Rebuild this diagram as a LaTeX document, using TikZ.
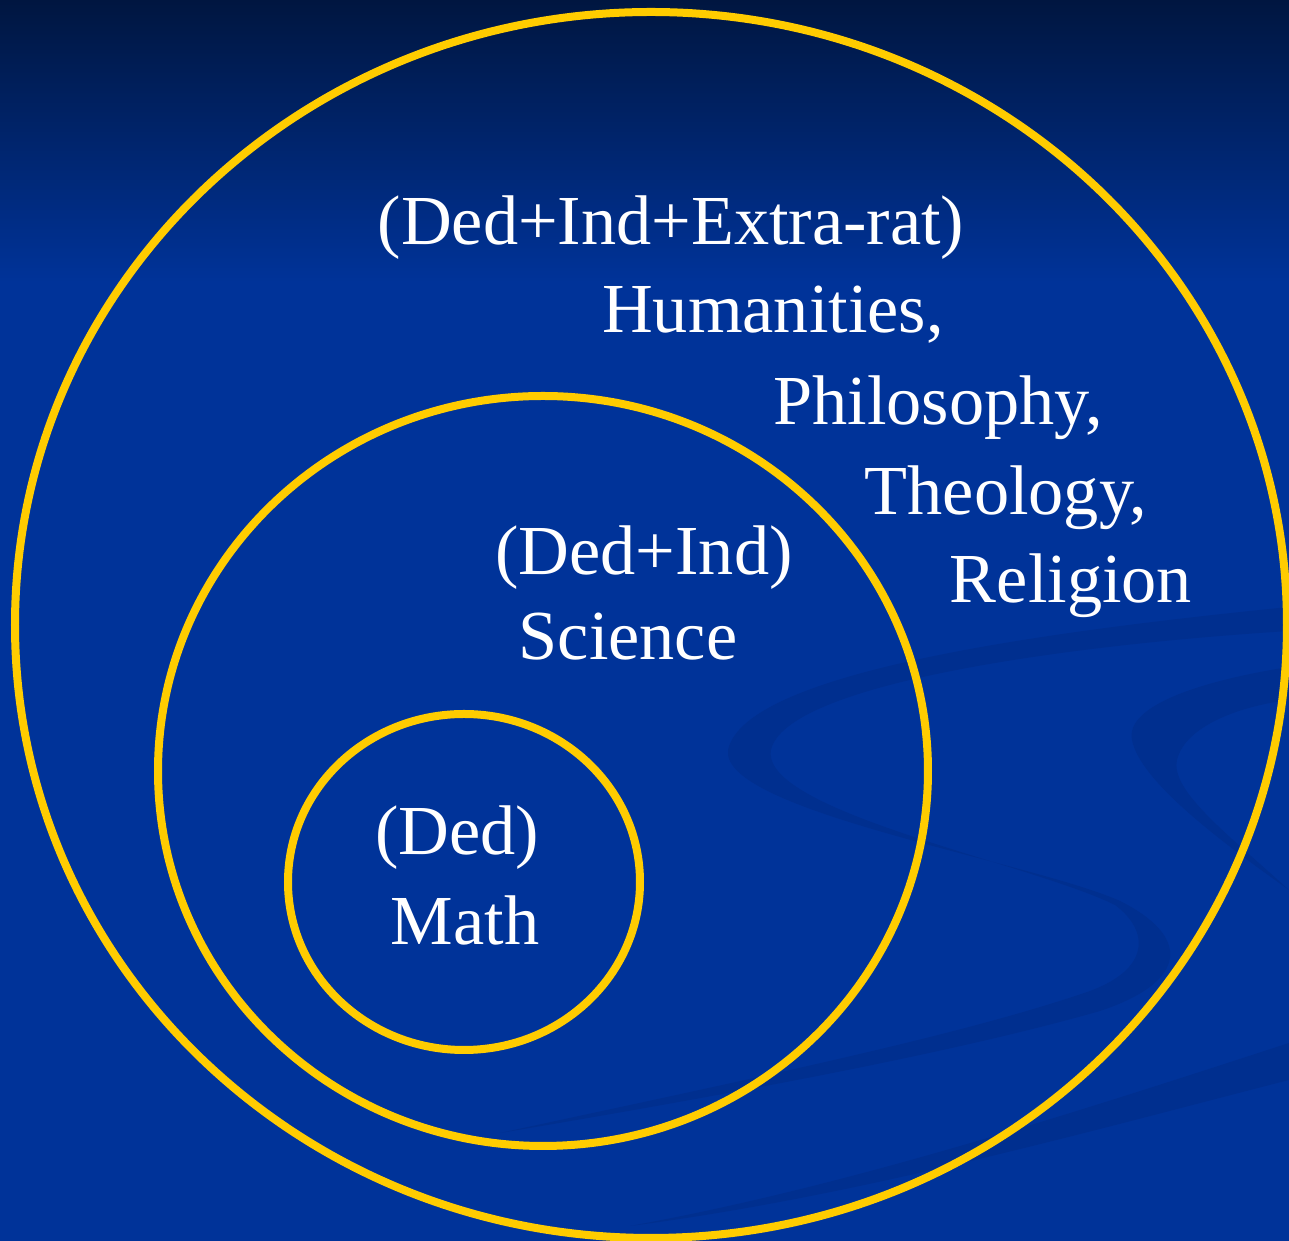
\documentclass[tikz,border=0pt]{standalone}
\usepackage{fontspec}
\setmainfont{Liberation Serif}
\usepackage{tikz}
\usetikzlibrary{shapes.geometric,positioning}
\definecolor{slidenavy}{RGB}{0,22,64}
\definecolor{slideblue}{RGB}{0,51,153}
\definecolor{swooshblue}{RGB}{0,47,143}
\definecolor{ringgold}{RGB}{255,204,0}

\begin{document}
\begin{tikzpicture}[
      ring/.style={ellipse,draw=ringgold,line width=0.08cm,inner sep=0pt},
      lbl/.style={text=white,font=\fontsize{20}{24}\selectfont,anchor=base,inner sep=0pt},
      swoosh/.style={fill=swooshblue,draw=none}]
      \useasboundingbox (0,0) rectangle (12.89,12.41);
      % Background
      \fill[slideblue] (0,0) rectangle (12.89,9.6);
      \shade[top color=slidenavy,bottom color=slideblue] (0,9.59) rectangle (12.89,12.41);

      % Swooshes
      \fill[swoosh] (12.89,6.34) .. controls (10.5,6.1) and (7.45,5.7) .. (7.28,4.91)
        .. controls (7.2,4.3) and (10.3,3.8) .. (11.2,3.4)
        .. controls (11.9,3.05) and (11.9,2.6) .. (11.0,2.3)
        .. controls (9.6,1.9) and (7.5,1.5) .. (5.0,1.08)
        .. controls (7.5,1.62) and (9.6,2.05) .. (10.9,2.5)
        .. controls (11.5,2.72) and (11.5,3.1) .. (11.15,3.36)
        .. controls (10.3,3.78) and (7.6,4.3) .. (7.71,4.91)
        .. controls (7.85,5.55) and (10.5,5.95) .. (12.89,6.1) -- cycle;
      \fill[swoosh] (12.89,5.74) .. controls (12.0,5.6) and (11.25,5.35) .. (11.32,5.01)
        .. controls (11.4,4.6) and (12.2,4.0) .. (12.89,3.51)
        .. controls (12.3,4.05) and (11.7,4.5) .. (11.77,4.81)
        .. controls (11.85,5.15) and (12.4,5.35) .. (12.89,5.41) -- cycle;
      \fill[swoosh] (12.89,1.98) .. controls (10.8,1.3) and (8.5,0.55) .. (6.3,0.15)
        .. controls (8.6,0.45) and (10.9,1.1) .. (12.89,1.61) -- cycle;

      % Rings
      \node[ring,minimum width=12.72cm,minimum height=12.26cm] (outer)  at (6.51,6.16) {};
      \node[ring,minimum width=7.70cm,minimum height=7.50cm]   (middle) at (5.43,4.70) {};
      \node[ring,minimum width=3.52cm,minimum height=3.36cm]   (inner)  at (4.64,3.59) {};

      % Labels
      \node[lbl] (outerkind) at (6.71,9.96) {(Ded+Ind+Extra-rat)};
      \node[lbl] (hum)   at (7.73,9.08) {Humanities,};
      \node[lbl] (phil)  at (9.38,8.16) {Philosophy,};
      \node[lbl] (theo)  at (10.06,7.26) {Theology,};
      \node[lbl] (relig) at (10.71,6.38) {Religion};
      \node[lbl] (midkind) at (6.44,6.66) {(Ded+Ind)};
      \node[lbl] (sci)     at (6.28,5.81) {Science};
      \node[lbl] (innkind) at (4.57,3.86) {(Ded)};
      \node[lbl] (math)    at (4.65,2.96) {Math};
    \end{tikzpicture}
\end{document}
